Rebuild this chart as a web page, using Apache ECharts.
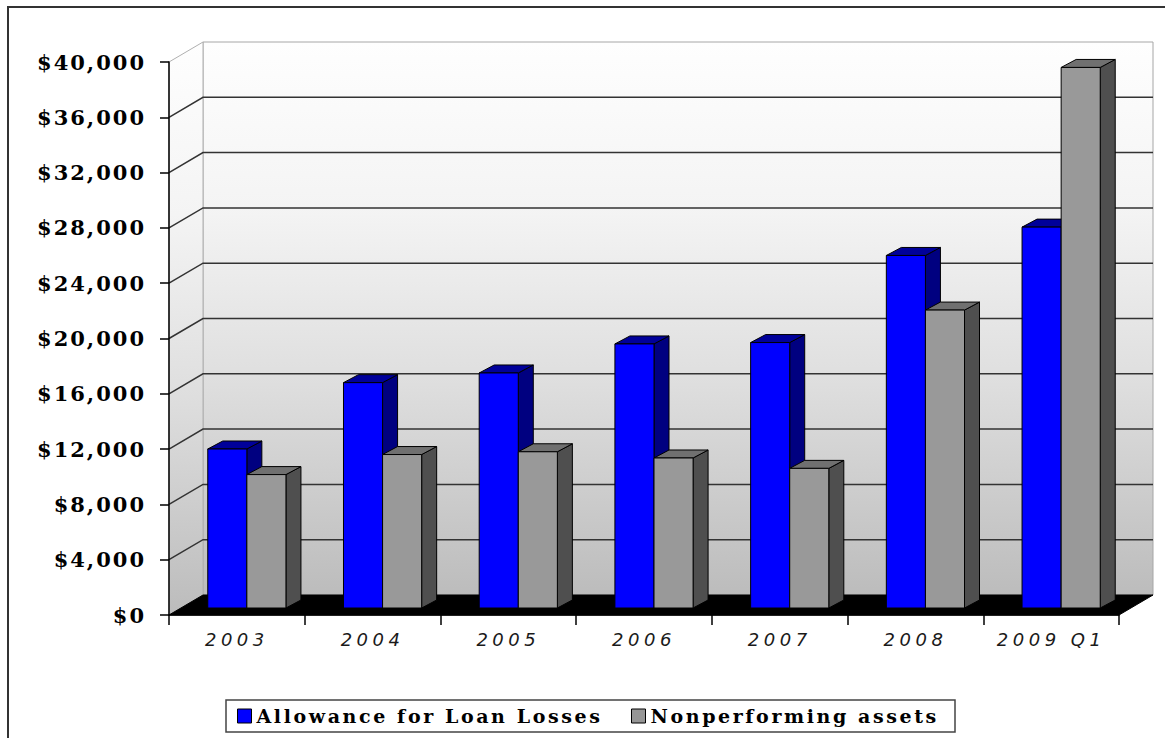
<!DOCTYPE html>
<html>
<head>
<meta charset="utf-8">
<script src="https://cdn.jsdelivr.net/npm/echarts@6/dist/echarts.min.js"></script>
<style>
  html, body { margin: 0; padding: 0; background: #ffffff; }
  #chart { width: 1165px; height: 738px; }
  /* wide tracking for the axis and legend lettering */
  #chart text[style*="21px"] { letter-spacing: 2px; }
  #chart text[style*="italic"] { letter-spacing: 4.5px; }
  #chart text[style*="19px"] { letter-spacing: 2.6px; }
</style>
</head>
<body>
<div id="chart"></div>
<script>
// ---- data ----
const years = ['2003', '2004', '2005', '2006', '2007', '2008', '2009 Q1'];
const allowance = [11500, 16300, 17000, 19100, 19200, 25500, 27550];
const nonperforming = [9650, 11100, 11300, 10850, 10100, 21550, 39100];
const seriesNames = ['Allowance for Loan Losses', 'Nonperforming assets'];
const gridValues = [4000, 8000, 12000, 16000, 20000, 24000, 28000, 32000, 36000];
const axisMax = 40000;
const axisStep = 4000;

// ---- 3-D look ----
const WALL_DX = 34, WALL_DY = -20;   // depth of the room (back wall offset)
const BAR_DX = 10, BAR_DY = -7;      // where the bars stand inside the room
const BOX_DX = 15, BOX_DY = -8;      // depth of each bar
const BAR_FRACTION = 0.288;          // bar width as a share of a category band

function wallGradient() {
  return new echarts.graphic.LinearGradient(0, 0, 0, 1, [
    { offset: 0, color: '#fefefe' },
    { offset: 0.3, color: '#f4f4f4' },
    { offset: 0.62, color: '#dedede' },
    { offset: 1, color: '#bcbcbc' }
  ]);
}

function renderRoom(params, api) {
  const cs = params.coordSys;
  const L = cs.x, R = cs.x + cs.width;
  const B = api.coord([0, 0])[1];
  const T = api.coord([0, axisMax])[1];
  const kids = [];
  // back wall
  kids.push({
    type: 'polygon',
    shape: { points: [[L + WALL_DX, T + WALL_DY], [R + WALL_DX, T + WALL_DY], [R + WALL_DX, B + WALL_DY], [L + WALL_DX, B + WALL_DY]] },
    style: { fill: wallGradient(), stroke: '#a6a6a6', lineWidth: 1 }
  });
  // left side wall
  kids.push({
    type: 'polygon',
    shape: { points: [[L, B], [L + WALL_DX, B + WALL_DY], [L + WALL_DX, T + WALL_DY], [L, T]] },
    style: { fill: wallGradient(), stroke: '#b0b0b0', lineWidth: 1 }
  });
  // gridlines across both walls
  gridValues.forEach(function (v) {
    const y = api.coord([0, v])[1];
    kids.push({
      type: 'polyline',
      shape: { points: [[L, y], [L + WALL_DX, y + WALL_DY], [R + WALL_DX, y + WALL_DY]] },
      style: { fill: null, stroke: '#333333', lineWidth: 1.5 }
    });
  });
  // floor
  kids.push({
    type: 'polygon',
    shape: { points: [[L, B], [R, B], [R + WALL_DX, B + WALL_DY], [L + WALL_DX, B + WALL_DY]] },
    style: { fill: '#000000', stroke: '#000000', lineWidth: 1 }
  });
  return { type: 'group', children: kids };
}

function barRenderer(slot, colors) {
  return function (params, api) {
    const c = api.value(0), v = api.value(1);
    const base = api.coord([c, 0]);
    const top = api.coord([c, v]);
    const w = api.size([1, 0])[0] * BAR_FRACTION;
    const x0 = base[0] + BAR_DX + (slot - 1) * w;
    const x1 = x0 + w;
    const yb = base[1] + BAR_DY;
    const yt = top[1] + BAR_DY;
    const edge = { stroke: '#000000', lineWidth: 1, lineJoin: 'round' };
    return {
      type: 'group',
      children: [
        {
          type: 'polygon',
          shape: { points: [[x1, yb], [x1, yt], [x1 + BOX_DX, yt + BOX_DY], [x1 + BOX_DX, yb + BOX_DY]] },
          style: Object.assign({ fill: colors.side }, edge)
        },
        {
          type: 'polygon',
          shape: { points: [[x0, yt], [x1, yt], [x1 + BOX_DX, yt + BOX_DY], [x0 + BOX_DX, yt + BOX_DY]] },
          style: Object.assign({ fill: colors.top }, edge)
        },
        {
          type: 'rect',
          shape: { x: x0, y: yt, width: w, height: yb - yt },
          style: Object.assign({ fill: colors.front }, edge)
        }
      ]
    };
  };
}

const chart = echarts.init(document.getElementById('chart'), null, { renderer: 'svg' });

const legendCommon = {
  orient: 'horizontal',
  top: 706,
  padding: 0,
  icon: 'rect',
  itemWidth: 14,
  itemHeight: 14,
  selectedMode: false,
  itemStyle: { borderColor: '#000000', borderWidth: 1 },
  textStyle: {
    fontFamily: 'DejaVu Serif',
    fontWeight: 'bold',
    fontSize: 19,
    lineHeight: 20,
    color: '#000000'
  }
};

chart.setOption({
  animation: false,
  backgroundColor: '#ffffff',
  grid: { left: 169, right: 46, top: 62, bottom: 123 },
  xAxis: {
    type: 'category',
    data: years,
    z: 5,
    axisLine: { show: true, lineStyle: { color: '#000000', width: 1.5 } },
    axisTick: { show: true, length: 10, lineStyle: { color: '#000000', width: 1.5 } },
    axisLabel: {
      margin: 15,
      fontFamily: 'DejaVu Sans',
      fontStyle: 'italic',
      fontSize: 18,
      color: '#1a1a1a'
    },
    splitLine: { show: false }
  },
  yAxis: {
    type: 'value',
    min: 0,
    max: axisMax,
    interval: axisStep,
    z: 5,
    axisLine: { show: true, lineStyle: { color: '#000000', width: 1.5 } },
    axisTick: { show: true, length: 9, lineStyle: { color: '#000000', width: 1.5 } },
    axisLabel: {
      margin: 23,
      fontFamily: 'DejaVu Serif',
      fontWeight: 'bold',
      fontSize: 21,
      color: '#000000',
      formatter: function (v) { return '$' + v.toLocaleString('en-US'); }
    },
    splitLine: { show: false }
  },
  legend: [
    Object.assign({ data: [seriesNames[0]], left: 237 }, legendCommon),
    Object.assign({ data: [seriesNames[1]], left: 631 }, legendCommon)
  ],
  graphic: [
    {
      type: 'polyline',
      z: 0,
      shape: { points: [[8, 760], [8, 7], [1190, 7]] },
      style: { fill: null, stroke: '#333333', lineWidth: 2 }
    },
    {
      type: 'rect',
      z: 0,
      shape: { x: 226, y: 700, width: 729, height: 32 },
      style: { fill: '#ffffff', stroke: '#444444', lineWidth: 1.5 }
    }
  ],
  series: [
    {
      type: 'custom',
      name: 'room',
      silent: true,
      z: 1,
      data: [[0, 0]],
      encode: { x: 0, y: 1 },
      renderItem: renderRoom
    },
    {
      type: 'custom',
      name: seriesNames[0],
      z: 3,
      itemStyle: { color: '#0000ff' },
      data: allowance.map(function (v, i) { return [i, v]; }),
      encode: { x: 0, y: 1 },
      renderItem: barRenderer(0, { front: '#0000ff', top: '#00009a', side: '#000080' })
    },
    {
      type: 'custom',
      name: seriesNames[1],
      z: 4,
      itemStyle: { color: '#969696' },
      data: nonperforming.map(function (v, i) { return [i, v]; }),
      encode: { x: 0, y: 1 },
      renderItem: barRenderer(1, { front: '#999999', top: '#707070', side: '#4f4f4f' })
    }
  ]
});
</script>
</body>
</html>
